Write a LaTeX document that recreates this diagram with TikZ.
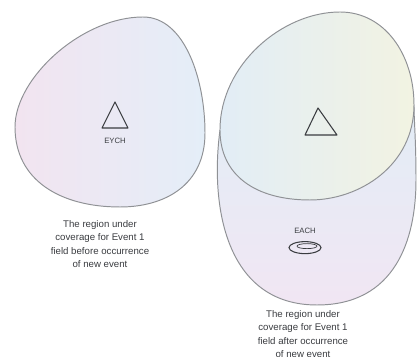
\documentclass[tikz,border=0pt]{standalone}
\usepackage{fontspec}
\setmainfont{Liberation Sans}
\usetikzlibrary{calc,positioning,shapes.geometric}
\definecolor{RegionLine}{HTML}{8F9195}
\definecolor{RegionPink}{HTML}{F2E4F0}
\definecolor{RegionBlue}{HTML}{E4EEF8}
\definecolor{RegionSky}{HTML}{E2EDF6}
\definecolor{RegionCream}{HTML}{F2F3E2}
\definecolor{RegionLilac}{HTML}{F1E6F3}
\definecolor{RegionInk}{HTML}{3A3C40}
\tikzset{
  region/edge/.style={draw=RegionLine, line width=.55pt},
  region/before/.style={region/edge, left color=RegionPink, right color=RegionBlue},
  region/after/.style={region/edge, top color=RegionSky, bottom color=RegionLilac},
  region/core/.style={region/edge, left color=RegionSky, right color=RegionCream},
  region/mark/.style={draw=RegionInk, line width=.6pt},
  region/tag/.style={font=\fontsize{4.4}{5}\selectfont, text=RegionInk, inner sep=1pt},
  region/note/.style={font=\fontsize{5.5}{7.6}\selectfont, text=RegionInk, align=center}
}
\begin{document}
\begin{tikzpicture}[x=0.02cm, y=-0.02cm]
  \useasboundingbox (0,0) rectangle (417,357);
  \fill[white] (0,0) rectangle (417,357);
  % before the new event
  \draw[region/before] (15,127) .. controls (15,78) and (82,17) .. (143,17)
    .. controls (185,17) and (205,80) .. (205,133)
    .. controls (205,185) and (165,207) .. (120,207)
    .. controls (60,207) and (15,180) .. (15,127) -- cycle;
  \coordinate (t1a) at (115,102);
  \coordinate (t1b) at (102,128);
  \coordinate (t1c) at (128,128);
  \draw[region/mark, line join=round] (t1a) -- (t1b) -- (t1c) -- cycle;
  \node[region/tag] (tag1) at (115,141) {EYCH};
  \node[region/note] (note1) at (100,244)
    {The region under\\coverage for Event 1\\field before occurrence\\of new event};
  % after the new event
  \draw[region/after] (220,130) .. controls (210,205) and (225,305) .. (317,305)
    .. controls (395,305) and (416,240) .. (416,180)
    .. controls (416,140) and (414,120) .. (414,105) -- cycle;
  \draw[region/core] (220,130) .. controls (220,65) and (282,12) .. (340,12)
    .. controls (385,12) and (414,55) .. (414,105)
    .. controls (414,165) and (360,200) .. (310,200)
    .. controls (255,200) and (220,175) .. (220,130) -- cycle;
  \coordinate (t2a) at (318,108);
  \coordinate (t2b) at (305,135);
  \coordinate (t2c) at (337,135);
  \draw[region/mark, line join=round] (t2a) -- (t2b) -- (t2c) -- cycle;
  \node[region/tag] (tag2) at (305,231) {EACH};
  \node[region/mark, ellipse, inner sep=0pt,
    minimum width=0.64cm, minimum height=0.24cm, below=3pt of tag2] (dish) {};
  \node[region/mark, ellipse, inner sep=0pt, line width=.4pt,
    minimum width=0.4cm, minimum height=0.1cm] (rim) at ($(dish.center)+(2,-1.5)$) {};
  \node[region/note] (note2) at (303,334)
    {The region under\\coverage for Event 1\\field after occurrence\\of new event};
\end{tikzpicture}
\end{document}
